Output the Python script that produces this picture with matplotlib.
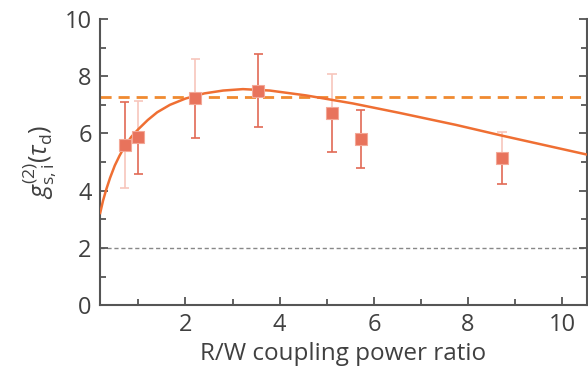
import numpy as np
import matplotlib
matplotlib.use("Agg")
import matplotlib.pyplot as plt
from matplotlib.ticker import MultipleLocator

plt.rcParams['font.family'] = ['Open Sans', 'DejaVu Sans']
plt.rcParams['mathtext.fontset'] = 'custom'
plt.rcParams['mathtext.rm'] = 'Open Sans'
plt.rcParams['mathtext.it'] = 'Open Sans:italic'

# measured points
ratio = [0.71, 1.00, 2.21, 3.55, 5.11, 5.72, 8.72]
g2 = [5.59, 5.86, 7.25, 7.49, 6.70, 5.82, 5.13]
err_up = [7.09, 7.14, 8.60, 8.78, 8.08, 6.83, 6.04]
err_lo = [4.10, 4.58, 5.84, 6.21, 5.35, 4.78, 4.23]
up_dark = [True, False, False, True, False, True, False]
lo_dark = [False, True, True, True, True, True, True]

# fitted curve
fit_x = [0.19, 0.25, 0.32, 0.40, 0.50, 0.60, 0.71, 0.85, 1.00, 1.20, 1.40,
         1.67, 2.00, 2.40, 2.80, 3.22, 3.79, 4.56, 5.55, 6.54, 7.74, 8.73, 10.5]
fit_y = [3.22, 3.65, 4.05, 4.45, 4.88, 5.22, 5.55, 5.88, 6.15, 6.47, 6.74,
         7.00, 7.22, 7.40, 7.50, 7.55, 7.50, 7.33, 7.05, 6.72, 6.30, 5.92, 5.27]

level_avg = 7.28
level_classical = 2.0

dark = '#e26a55'
light = '#f7c6bc'
ink = '#404040'

fig = plt.figure(figsize=(5.88, 3.73), dpi=100)
ax = fig.add_axes([0.170, 0.182, 0.828, 0.767])

ax.axhline(level_classical, color='#888888', lw=1, ls=(0, (3, 2)), zorder=1)
ax.axhline(level_avg, color='#f08a30', lw=2, ls=(0, (4, 2.5)), zorder=2)

for x, y, hi, lo, ud, ld in zip(ratio, g2, err_up, err_lo, up_dark, lo_dark):
    cu = dark if ud else light
    cl = dark if ld else light
    ax.vlines(x, y, hi, color=cu, lw=1.2, zorder=3)
    ax.hlines(hi, x - 0.1, x + 0.1, color=cu, lw=1.2, zorder=3)
    ax.vlines(x, lo, y, color=cl, lw=1.2, zorder=3)
    ax.hlines(lo, x - 0.1, x + 0.1, color=cl, lw=1.2, zorder=3)

ax.plot(fit_x, fit_y, color='#ef6f33', lw=1.8, zorder=4,
        solid_joinstyle='round')
ax.plot(ratio, g2, 's', color='#e8735c', ms=8, mec='#f3a897', mew=0.8, zorder=5)

ax.set_xlim(0.185, 10.52)
ax.set_ylim(0, 10)
ax.xaxis.set_major_locator(MultipleLocator(2))
ax.xaxis.set_minor_locator(MultipleLocator(1))
ax.yaxis.set_major_locator(MultipleLocator(2))
ax.yaxis.set_minor_locator(MultipleLocator(1))

ax.spines['top'].set_visible(False)
for s in ['left', 'bottom', 'right']:
    ax.spines[s].set_color('#555555')
    ax.spines[s].set_linewidth(1.5)

ax.tick_params(which='both', direction='in', colors='#555555', width=1.3,
               labelcolor=ink, labelsize=17, right=True, top=False)
ax.tick_params(which='major', length=6, pad=6)
ax.tick_params(which='minor', length=4)

ax.set_xlabel('R/W coupling power ratio', fontsize=17.5, color=ink, labelpad=3)
ax.set_ylabel(r'$g^{(2)}_{\mathrm{s,i}}(\tau_{\mathrm{d}})$', fontsize=18,
              color=ink, labelpad=4)

fig.savefig('out.png', dpi=100)
